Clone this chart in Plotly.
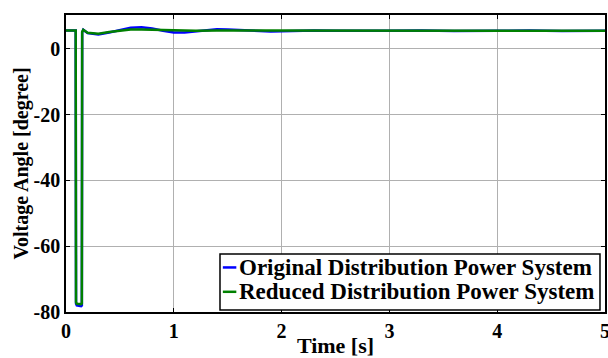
import plotly.graph_objects as go

t_orig = [0, 0.09, 0.093, 0.10, 0.14, 0.147, 0.15, 0.16, 0.2, 0.3, 0.4, 0.5, 0.6, 0.7, 0.8, 0.9,
          1.0, 1.1, 1.2, 1.3, 1.4, 1.5, 1.7, 1.9, 2.1, 2.3, 2.5, 2.8, 3.0, 3.3, 3.6, 4.0, 4.3, 4.6, 5.0]
v_orig = [5.6, 5.6, -77.5, -78.0, -78.2, -78.0, 5.0, 5.8, 4.8, 4.4, 5.0, 5.8, 6.4, 6.6, 6.2, 5.5,
          5.0, 5.0, 5.3, 5.8, 6.0, 5.9, 5.5, 5.3, 5.4, 5.6, 5.5, 5.4, 5.5, 5.6, 5.4, 5.5, 5.6, 5.4, 5.5]

t_red = [0, 0.09, 0.093, 0.10, 0.14, 0.147, 0.15, 0.16, 0.2, 0.3, 0.4, 0.5, 0.6, 0.7, 0.8, 0.9,
         1.0, 1.2, 1.4, 1.6, 2.0, 2.5, 3.0, 3.5, 4.0, 4.5, 5.0]
v_red = [5.6, 5.6, -77.0, -77.5, -77.6, -77.4, 5.2, 5.8, 4.9, 4.6, 5.1, 5.6, 5.9, 5.9, 5.8, 5.6,
         5.5, 5.5, 5.6, 5.6, 5.5, 5.5, 5.5, 5.5, 5.5, 5.5, 5.5]

series_names = ["Original Distribution Power System", "Reduced Distribution Power System"]
series_colors = ["#0000ff", "#008000"]

x_ticks = [0, 1, 2, 3, 4, 5]
y_ticks = [-80, -60, -40, -20, 0]

FAM = "'Liberation Serif', 'Times New Roman', Times, serif"
font = dict(family=FAM, size=20, color="black")

fig = go.Figure()
for tx, vy, nm, col in [(t_orig, v_orig, series_names[0], series_colors[0]),
                        (t_red, v_red, series_names[1], series_colors[1])]:
    fig.add_trace(go.Scatter(x=tx, y=vy, mode="lines", name=nm, showlegend=False,
                             line=dict(color=col, width=2.5)))

axis_common = dict(showline=True, linecolor="black", linewidth=1.5, mirror="ticks",
                   showgrid=True, gridcolor="#b0b0b0", gridwidth=1,
                   ticks="inside", ticklen=4, tickcolor="black", zeroline=False,
                   automargin=False, ticklabeloverflow="allow",
                   tickfont=dict(family=FAM, size=20, color="black"))

# Compact legend box (drawn in paper coordinates)
L_X0, L_X1, L_Y0, L_Y1 = 0.2857, 0.9907, 0.0067, 0.195
row_y = [0.150, 0.068]
fig.add_shape(type="rect", xref="paper", yref="paper", x0=L_X0, x1=L_X1, y0=L_Y0, y1=L_Y1,
              line=dict(color="black", width=1.5), fillcolor="white", layer="above")
for ry, nm, col in zip(row_y, series_names, series_colors):
    fig.add_shape(type="line", xref="paper", yref="paper", x0=0.291, x1=0.316, y0=ry, y1=ry,
                  line=dict(color=col, width=2.5), layer="above")
    fig.add_annotation(xref="paper", yref="paper", x=0.318, y=ry, xanchor="left", yanchor="middle",
                       text=f"<b>{nm}</b>", showarrow=False,
                       font=dict(family=FAM, size=23, color="black"))

fig.update_layout(
    width=608, height=358,
    margin=dict(l=66, r=3, t=15, b=46),
    paper_bgcolor="white", plot_bgcolor="white",
    font=font,
    showlegend=False,
    xaxis=dict(range=[0, 5], tickvals=x_ticks, ticktext=[f"<b>{v}</b>" for v in x_ticks], ticklabelstandoff=0,
               title=dict(text="<b>Time [s]</b>", standoff=0, font=dict(family=FAM, size=22)), **axis_common),
    yaxis=dict(range=[-80, 10.3], tickvals=y_ticks, ticktext=[f"<b>{v}</b>" for v in y_ticks], ticklabelstandoff=0,
               title=dict(text="<b>Voltage Angle [degree]</b>", standoff=0, font=dict(family=FAM, size=20)), **axis_common),
)

fig.write_html("out.html", config={"displayModeBar": False},
               post_script="document.body.style.margin='0';document.body.style.overflow='hidden';")
